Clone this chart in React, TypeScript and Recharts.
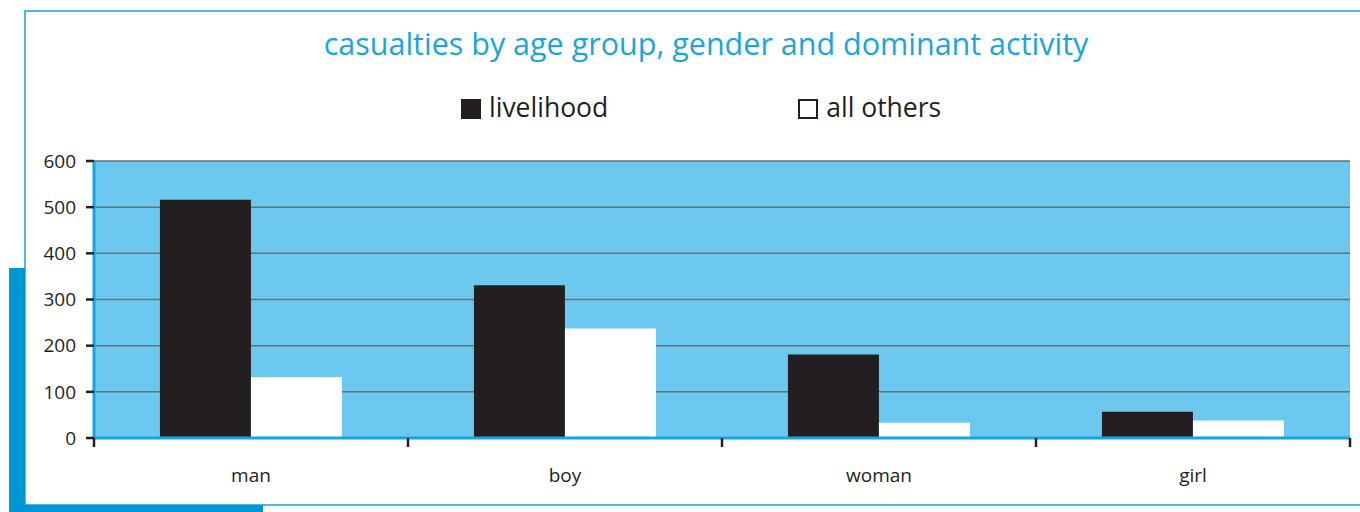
import { BarChart, Bar, XAxis, YAxis, CartesianGrid } from 'recharts'

const categories = ['man', 'boy', 'woman', 'girl']
const livelihood = [516, 331, 181, 57]
const allOthers = [132, 237, 33, 38]
const yTicks = [0, 100, 200, 300, 400, 500, 600]

const series = [
  { key: 'livelihood', name: 'livelihood', color: '#231F20' },
  { key: 'others', name: 'all others', color: '#FFFFFF' },
]

const data = categories.map((name, i) => ({
  name,
  livelihood: livelihood[i],
  others: allOthers[i],
}))

const FONT = '"Open Sans", sans-serif'
const INK = '#231F20'
const AXIS_BLUE = '#14A6E1'
const X_TICK_SIZE = 0
const X_TICK_MARGIN = 32
const EDGE_TICK_LEN = 9

// category label plus a tick mark on the left edge of each band (and right edge of the last one)
const CategoryTick = (props: any) => {
  const { x, y, payload, index } = props
  const half = payload?.offset ?? 0
  const axisY = y - X_TICK_SIZE - X_TICK_MARGIN
  return (
    <g>
      <line x1={x - half} x2={x - half} y1={axisY} y2={axisY + EDGE_TICK_LEN} stroke={INK} strokeWidth={2.5} />
      {index === categories.length - 1 && (
        <line x1={x + half} x2={x + half} y1={axisY} y2={axisY + EDGE_TICK_LEN} stroke={INK} strokeWidth={2.5} />
      )}
      <text x={x} y={y} dy={12} textAnchor="middle" fill={INK} fontSize={19} fontFamily={FONT}>
        {payload.value}
      </text>
    </g>
  )
}

export default function App() {
  return (
    <div
      style={{
        position: 'absolute',
        left: 0,
        top: 0,
        width: 1360,
        height: 512,
        overflow: 'hidden',
        background: '#fff',
        fontFamily: FONT,
      }}
    >
      {/* frame */}
      <div
        style={{
          position: 'absolute',
          left: 24,
          top: 10,
          width: 1400,
          height: 496,
          boxSizing: 'border-box',
          border: '2px solid #4DB8E6',
        }}
      />
      <div style={{ position: 'absolute', left: 9, top: 268, width: 16, height: 244, background: '#0096D4' }} />
      <div style={{ position: 'absolute', left: 9, top: 505, width: 254, height: 7, background: '#0096D4' }} />

      {/* title */}
      <div
        style={{
          position: 'absolute',
          left: 52,
          top: 28,
          width: 1308,
          textAlign: 'center',
          fontSize: 30.5,
          lineHeight: '30px',
          color: '#1AA5DE',
        }}
      >
        casualties by age group, gender and dominant activity
      </div>

      {/* legend */}
      <div
        style={{
          position: 'absolute',
          left: 461,
          top: 94,
          display: 'flex',
          gap: 190,
          fontSize: 26.5,
          lineHeight: '26px',
          color: INK,
        }}
      >
        {series.map((s) => (
          <div key={s.key} style={{ display: 'flex', alignItems: 'flex-end' }}>
            <div
              style={{
                width: 20,
                height: 20,
                boxSizing: 'border-box',
                background: s.color,
                border: `2px solid ${INK}`,
                marginRight: 8,
                marginBottom: 1,
              }}
            />
            <span>{s.name}</span>
          </div>
        ))}
      </div>

      <div style={{ position: 'absolute', left: 0, top: 0 }}>
        <BarChart
          width={1360}
          height={512}
          data={data}
          margin={{ top: 161, right: 10, bottom: 34, left: 0 }}
          barCategoryGap="21%"
          barGap={0}
        >
          <CartesianGrid
            yAxisId="left"
            vertical={false}
            fill="#6CC8EE"
            fillOpacity={1}
            stroke="#6D6E71"
            strokeWidth={1.5}
          />
          {series.map((s) => (
            <Bar
              key={s.key}
              dataKey={s.key}
              name={s.name}
              fill={s.color}
              yAxisId="left"
              isAnimationActive={false}
            />
          ))}
          <XAxis
            dataKey="name"
            height={40}
            interval={0}
            tickSize={X_TICK_SIZE}
            tickMargin={X_TICK_MARGIN}
            axisLine={{ stroke: AXIS_BLUE, strokeWidth: 3 }}
            tickLine={false}
            tick={CategoryTick}
          />
          <YAxis
            yAxisId="left"
            domain={[0, 600]}
            ticks={yTicks}
            interval={0}
            width={94}
            tickSize={8}
            tickMargin={10}
            axisLine={{ stroke: AXIS_BLUE, strokeWidth: 3 }}
            tickLine={{ stroke: INK, strokeWidth: 2.5 }}
            tick={{ fill: INK, fontSize: 19, fontFamily: FONT }}
          />
          <YAxis
            yAxisId="right"
            orientation="right"
            domain={[0, 600]}
            width={0}
            tick={false}
            tickLine={false}
            axisLine={{ stroke: AXIS_BLUE, strokeWidth: 3 }}
          />
        </BarChart>
      </div>
    </div>
  )
}
